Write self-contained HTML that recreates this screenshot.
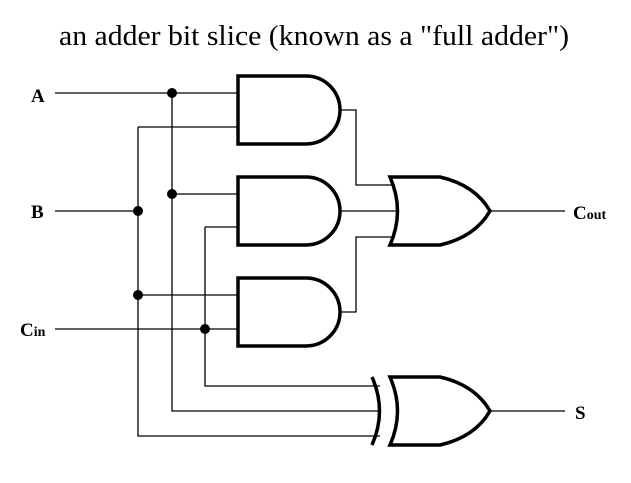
<!DOCTYPE html>
<html><head><style>
html,body{margin:0;padding:0;background:#fff;width:631px;height:483px;overflow:hidden}
</style></head><body>
<svg width="631" height="483" viewBox="0 0 631 483" xmlns="http://www.w3.org/2000/svg">
<text x="314" y="45" text-anchor="middle" font-family="Liberation Serif, serif" font-size="29" textLength="510" lengthAdjust="spacingAndGlyphs">an adder bit slice (known as a "full adder")</text>
<g stroke="#000" stroke-width="1.3" fill="none">
<path d="M55 93H238M55 211H138M55 329H238"/>
<path d="M172 93V411H380M138 127V436H380M205 227V386H380"/>
<path d="M138 127H238M138 295H238M172 194H238M205 227H238"/>
<path d="M340 110H356V185H394M340 211H399M340 312H356V237H394"/>
<path d="M490 211H565M490 411H565"/>
</g>
<g stroke="#000" stroke-width="3.5" fill="none">
<path d="M238 76H306A34 34 0 0 1 306 144H238Z"/>
<path d="M238 177H306A34 34 0 0 1 306 245H238Z"/>
<path d="M238 278H306A34 34 0 0 1 306 346H238Z"/>
<path d="M390 177H440Q475 185 490 211Q475 237 440 245H390Q405 211 390 177Z"/>
<path d="M390 377H440Q475 385 490 411Q475 437 440 445H390Q405 411 390 377Z"/>
<path d="M372 377Q387 411 372 445"/>
</g>
<g fill="#000">
<circle cx="172" cy="93" r="5"/><circle cx="172" cy="194" r="5"/>
<circle cx="138" cy="211" r="5"/><circle cx="138" cy="295" r="5"/>
<circle cx="205" cy="329" r="5"/>
</g>
<g font-family="Liberation Serif, serif" font-weight="bold" font-size="19">
<text x="31" y="102">A</text>
<text x="31" y="218">B</text>
<text x="20" y="336">C<tspan font-size="14">in</tspan></text>
<text x="573" y="219">C<tspan font-size="14">out</tspan></text>
<text x="575" y="419">S</text>
</g>
</svg>
</body></html>
